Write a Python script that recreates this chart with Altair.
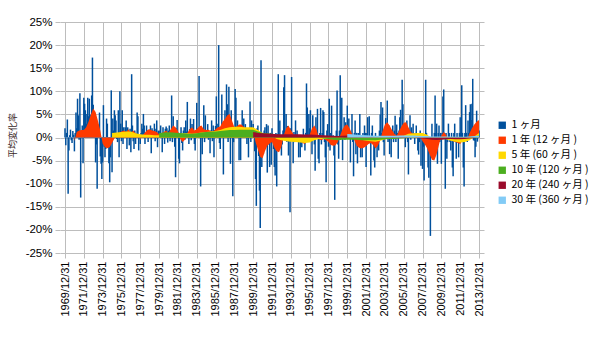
import altair as alt
import pandas as pd

# ---- series names / colours ----
series_names = ["1 ヶ月", "1 年 (12 ヶ月 )", "5 年 (60 ヶ月 )",
                "10 年 (120 ヶ月 )", "20 年 (240 ヶ月 )", "30 年 (360 ヶ月 )"]
series_colors = ["#00509C", "#FF3A00", "#FFD800", "#4CAE1F", "#9A0B2B", "#82CBF6"]

# x tick labels: every 2 years, month index 0 = 1969/12/31
tick_labels = ["1969/12/31", "1971/12/31", "1973/12/31", "1975/12/31", "1977/12/31",
               "1979/12/31", "1981/12/31", "1983/12/31", "1985/12/31", "1987/12/31",
               "1989/12/31", "1991/12/31", "1993/12/31", "1995/12/31", "1997/12/31",
               "1999/12/31", "2001/12/31", "2003/12/31", "2005/12/31", "2007/12/31",
               "2009/12/31", "2011/12/31", "2013/12/31"]

# 1-month change (%), 1969/12 then Jan..Dec of each year 1970-2013
monthly = [
    2.0,
    -1.7, 1.0, 3.9, -12.2, -2.8, 0.5, 1.7, -0.6, -1.2, 1.4, 0.6, -3.0,     # 1970
    1.0, 5.4, 2.0, 8.4, 4.8, -0.5, 9.6, -13.0, 1.5, 2.6, -5.6, 8.6,        # 1971
    7.3, 5.9, 3.0, 5.1, 8.6, 4.6, 8.4, 2.0, 4.9, 9.1, 17.3, 7.1,           # 1972
    2.0, 4.4, -5.4, -1.5, -11.1, 2.8, 2.5, 5.4, -4.1, -5.7, -9.0, -5.4,    # 1973
    7.0, -2.0, -4.3, -2.5, 4.1, 3.0, -1.0, -5.6, -9.7, -4.3, 10.2, -7.5,   # 1974
    4.1, 1.5, 5.9, 4.8, 3.7, -0.3, -1.0, 5.9, -4.3, 10.0, 3.0, -0.8,       # 1975
    5.9, -1.4, 2.2, 1.0, 2.2, 3.7, -2.5, 2.2, 0.6, -1.7, 1.9, -3.2,        # 1976
    13.7, 2.6, -0.8, -2.5, 1.5, -1.4, 0.8, 5.4, 4.6, -2.8, 0.5, -1.4,      # 1977
    1.0, 3.0, 1.9, 5.1, 2.6, -1.4, 0.8, 2.6, 0.5, -1.0, 1.7, 1.2,          # 1978
    2.6, -3.4, 2.0, 1.5, 0.6, 3.0, -0.8, 1.9, 3.7, -2.1, 1.5, 0.8,         # 1979
    1.5, 2.6, 0.5, -3.2, 2.2, 0.9, -1.4, 1.9, 2.4, 2.0, -1.1, 1.5,         # 1980
    2.6, -0.8, 1.5, 9.1, -1.0, 4.6, 1.2, -2.0, -8.6, 2.0, 3.8, 1.1,        # 1981
    -4.6, -5.6, 1.0, 2.2, -1.2, -2.8, 1.5, 2.2, -0.5, 3.7, 1.3, 7.7,       # 1982
    0.5, -1.4, 1.8, 4.1, -0.6, 2.9, 1.2, 4.0, -1.4, -2.8, 1.5, 7.5,        # 1983
    2.0, 0.5, 13.3, 1.0, -10.6, 0.8, -3.6, 1.5, 7.0, -1.0, 4.8, 1.2,       # 1984
    0.8, 2.9, -0.5, 1.4, -3.4, 1.5, 3.7, -0.8, 2.6, -4.3, 1.6, 2.5,        # 1985
    8.9, 1.5, 3.0, 20.0, -1.2, -2.5, 1.5, 9.3, 2.0, -8.0, 1.5, 5.9,        # 1986
    3.0, 11.5, 7.2, -1.0, 11.0, 1.0, -5.7, 5.9, 2.0, -12.7, -1.0, 1.5,     # 1987
    10.5, 8.6, 1.0, 3.7, 0.5, -4.9, 1.2, -4.9, 0.9, 5.9, 1.5, 4.1,         # 1988
    1.0, 2.9, 1.5, -1.4, 2.0, -4.3, 1.1, 7.8, -1.0, 3.7, 1.5, 2.9,         # 1989
    1.5, -3.0, -9.0, -14.8, 2.0, 2.6, -4.0, -11.5, -19.6, 16.7, -6.4, 1.0, # 1990
    -3.6, 1.5, 2.2, -1.0, 2.9, -7.6, 2.6, -1.5, -6.4, 1.0, -5.9, 2.0,      # 1991
    -1.0, -2.5, -6.4, -8.2, 1.0, -10.6, 0.8, 13.7, -1.0, 3.7, -0.5, -3.9,  # 1992
    -1.5, 1.5, 10.9, 13.5, 1.0, 5.1, -1.0, 2.5, -3.9, 0.8, -16.2, 2.0,     # 1993
    13.1, 1.0, -5.6, 1.2, -1.0, 3.7, 0.5, 1.5, -1.0, -4.3, 0.5, -4.3,      # 1994
    -1.0, -2.1, -0.5, 1.9, -1.0, -2.8, 1.0, 11.7, 6.5, -0.5, 5.1, 2.0,     # 1995
    5.9, -1.0, -3.6, 4.8, 1.0, -1.5, -7.2, 4.4, 1.0, 6.2, -4.6, -5.6,      # 1996
    1.0, 6.4, -1.5, 1.0, 5.9, 5.5, -1.0, -4.3, -9.7, 1.5, 2.9, -2.0,       # 1997
    8.4, -2.8, 1.0, 6.9, -1.0, 0.5, -3.9, -13.5, -1.0, 1.5, 10.2, -1.5,    # 1998
    -4.6, 1.5, 13.5, 2.0, 8.6, -4.9, 1.0, 4.4, -0.5, 3.3, 1.0, 6.9,        # 1999
    1.0, 4.1, 1.0, -5.4, 1.0, 5.1, -1.0, -8.4, 1.0, 3.7, -3.6, 1.0,        # 2000
    -5.6, 1.0, -1.0, 5.1, -4.3, -1.0, -4.3, 1.0, -1.5, 2.6, 1.0, -6.4,     # 2001
    1.0, 4.4, -1.0, 4.6, -1.0, -8.2, 1.0, 2.6, -1.0, -5.0, -6.5, 1.0,      # 2002
    -1.0, -4.3, -1.0, -2.8, 1.5, 5.0, 7.7, 1.0, 6.5, -1.0, -3.9, 1.5,      # 2003
    4.2, 1.0, 8.0, -1.0, 2.6, -3.6, 1.0, -4.3, 1.0, 2.6, -1.0, 1.5,        # 2004
    4.7, -1.0, 2.8, 1.0, -4.6, 1.5, 4.4, 6.0, 1.0, 12.5, 7.2, 1.5,         # 2005
    1.0, -2.1, 1.0, 3.7, -1.0, -8.0, 1.0, 4.8, -0.5, 2.2, 1.0, 3.0,        # 2006
    1.0, -1.4, 1.0, 2.6, 1.0, -2.8, -3.7, -1.0, 1.5, -6.1, 1.0, -6.8,      # 2007
    -2.0, -9.3, -1.0, 12.5, 1.0, -1.5, -6.5, -8.7, -2.5, -21.3, -1.0, 3.0, # 2008
    -1.5, -3.6, 1.0, 9.1, 1.0, 3.0, -5.7, 1.0, 2.6, -1.0, 1.0, -5.7,       # 2009
    1.0, 8.9, 10.4, 1.0, -11.1, 1.0, -4.6, -1.0, 3.0, 1.0, -1.0, -2.8,     # 2010
    1.0, -6.5, -8.4, 1.0, 3.0, -1.0, -4.6, 1.0, -1.0, -4.3, 1.0, 4.4,      # 2011
    1.0, 11.3, 1.0, -6.5, -10.6, 1.0, 7.0, 1.0, -1.0, 3.7, 1.0, 5.5,       # 2012
    7.2, 3.8, 7.3, 12.7, -0.6, -0.7, -4.3, -2.0, 5.8, -0.9, 3.0, 1.5,      # 2013
]

# 1-year average (%), quarterly: 1970/12, then Mar/Jun/Sep/Dec 1971-2013
avg_1y = [
    -0.8,
    1.2, 1.5, 1.6, 1.6,  2.2, 3.4, 4.9, 6.3,  5.5, 3.6, 1.5, -1.3,  -2.1, -2.3, -2.1, -1.2,
    -0.2, 0.6, 1.1, 1.3,  1.5, 1.2, 1.8, 1.0,  1.5, 0.9, 0.5, -0.4,  0.5, 1.1, 1.6, 1.8,
    1.5, 1.4, 1.2, 0.7,  0.9, 1.2, 1.5, 1.0,  1.8, 2.6, 2.2, 1.4,  -0.3, -1.0, -0.5, 1.0,
    1.8, 2.2, 1.5, 1.8,  2.4, 2.6, 1.8, 1.6,  1.7, 1.4, 1.3, 1.8,  2.2, 2.4, 3.4, 4.0,
    4.8, 5.1, 3.6, 2.2,  2.4, 2.8, 2.8, 2.3,  2.0, 1.9, 1.6, 1.2,  -1.0, -2.6, -4.2, -4.5,
    -3.0, -1.8, -1.3, -1.0,  -2.2, -3.0, -3.2, -2.0,  0.5, 2.0, 2.6, 1.6,  0.8, 0.0, -0.5, -0.8,
    -1.2, -1.4, -0.6, 0.6,  2.0, 2.6, 1.6, -0.4,  -0.6, -0.3, -0.6, -1.0,  -1.6, -1.8, -1.7, -1.0,
    0.5, 1.8, 2.6, 2.8,  2.0, 0.8, -0.6, -1.8,  -2.2, -2.4, -2.2, -1.9,  -1.4, -1.2, -1.6, -2.4,
    -1.8, -0.6, 1.4, 2.8,  3.3, 2.6, 1.6, 0.8,  0.4, 1.4, 2.4, 3.2,  3.3, 2.2, 1.2, 0.8,
    0.8, 0.6, 0.2, -0.8,  -1.5, -2.4, -3.6, -4.8,  -5.0, -3.6, -1.5, 0.4,  1.2, 0.6, -0.5, -0.6,
    -0.8, -1.0, -1.2, -1.4,  -0.6, -0.8, -0.4, 1.0,  2.0, 2.8, 3.4, 3.8,
]

# 5-year average (%), half-yearly from 1974/12
avg_5y = [
    1.0,
    1.1, 1.2,  1.3, 1.3,  0.9, 0.7,  0.6, 0.6,  0.5, 0.5,  0.5, 0.6,  0.7, 0.8,  0.9, 0.9,
    0.8, 0.9,  1.1, 1.2,  1.3, 1.4,  1.6, 2.0,  2.2, 2.3,  2.3, 2.2,  2.2, 2.2,  1.6, 1.0,
    0.6, 0.3,  -0.3, -0.6,  -0.8, -0.9,  -1.0, -1.1,  -1.2, -1.1,  -0.6, -0.3,  -0.3, -0.3,
    -0.4, -0.4,  -0.1, 0.1,  -0.1, -0.3,  -0.5, -0.7,  -0.8, -0.9,  -0.7, -0.4,  -0.1, 0.1,
    0.3, 0.4,  0.8, 0.9,  1.0, 1.0,  0.6, -0.2,  -0.3, -0.2,  -0.4, -0.7,  -0.9, -1.1,
    -1.0, -0.6,  0.2, 1.0,
]

# 10-year average (%), half-yearly from 1979/12
avg_10y = [
    1.0,
    1.1, 1.15,  1.1, 1.0,  0.9, 0.8,  0.8, 0.9,  1.1, 1.2,  1.25, 1.3,  1.4, 1.5,  1.6, 1.65,
    1.7, 1.7,  1.7, 1.7,  1.3, 1.0,  0.9, 0.8,  0.6, 0.55,  0.6, 0.55,  0.5, 0.4,  0.3, 0.3,
    0.1, 0.0,  -0.2, -0.3,  -0.5, -0.6,  -0.5, -0.5,  -0.5, -0.5,  -0.6, -0.6,  -0.6, -0.6,
    -0.5, -0.4,  -0.3, -0.3,  -0.2, -0.15,  -0.1, -0.1,  0.0, 0.0,  -0.2, -0.4,  -0.5, -0.45,
    -0.3, -0.25,  -0.25, -0.2,  -0.1, 0.15,  0.3, 0.4,
]

# 20-year average (%), half-yearly from 1989/12
avg_20y = [
    1.2,
    1.0, 0.9,  0.85, 0.8,  0.7, 0.7,  0.7, 0.7,  0.7, 0.7,  0.65, 0.65,  0.6, 0.55,  0.5, 0.45,
    0.4, 0.35,  0.4, 0.45,  0.35, 0.25,  0.2, 0.15,  0.1, 0.05,  0.05, 0.05,  0.1, 0.1,
    0.1, 0.15,  0.05, 0.0,  -0.1, -0.2,  -0.35, -0.5,  -0.55, -0.5,  -0.4, -0.35,  -0.4, -0.4,
    -0.3, -0.2,  -0.1, 0.05,
]

# 30-year average (%), half-yearly from 1999/12
avg_30y = [
    0.75,
    0.7, 0.6,  0.55, 0.5,  0.45, 0.4,  0.4, 0.4,  0.4, 0.4,  0.45, 0.45,  0.45, 0.45,
    0.4, 0.35,  0.3, 0.2,  0.2, 0.2,  0.2, 0.2,  0.15, 0.15,  0.15, 0.2,  0.3, 0.4,
]

assert len(monthly) == 529, len(monthly)


def frame(values, start, step, name):
    return pd.DataFrame({"m": [start + step * i for i in range(len(values))],
                         "v": values, "s": name})


df_1m = frame(monthly, 0, 1, series_names[0])
df_1y = frame(avg_1y, 12, 3, series_names[1])
df_5y = frame(avg_5y, 60, 6, series_names[2])
df_10y = frame(avg_10y, 120, 6, series_names[3])
df_20y = frame(avg_20y, 240, 6, series_names[4])
df_30y = frame(avg_30y, 360, 6, series_names[5])

label_font = "Liberation Sans"
cjk_font = "Noto Sans CJK JP"

x_enc = alt.X("m:Q",
              scale=alt.Scale(domain=[0, 528], nice=False, zero=False),
              axis=alt.Axis(values=list(range(0, 529, 24)),
                            labelExpr="['" + "','".join(tick_labels) + "'][round(datum.value/24)]",
                            labelAngle=270, labelFont=label_font, labelFontSize=11,
                            labelColor="#000000", labelPadding=3, tickSize=5,
                            tickColor="#BDBDBD", grid=True, gridColor="#BDBDBD",
                            domain=False, title=None, labelOverlap=False,
                            labelFlush=False))

y_enc = alt.Y("v:Q",
              scale=alt.Scale(domain=[-25, 25], nice=False),
              axis=alt.Axis(values=list(range(-25, 26, 5)),
                            labelExpr="datum.value + '%'",
                            labelFont=label_font, labelFontSize=11.5,
                            labelColor="#000000", labelPadding=3, tickSize=5,
                            tickColor="#BDBDBD", grid=True, gridColor="#BDBDBD",
                            domain=False, title="平均変化率", titleFont=cjk_font,
                            titleFontSize=9, titleFontWeight="normal",
                            titleColor="#3A2A2A", titleX=-48, titleY=113,
                            titleAlign="center", titleBaseline="middle",
                            titleAngle=270))

color_enc = alt.Color("s:N",
                      scale=alt.Scale(domain=series_names, range=series_colors),
                      legend=alt.Legend(orient="none", legendX=437, legendY=98,
                                        title=None, symbolType="square",
                                        symbolSize=54, symbolStrokeWidth=0,
                                        symbolOpacity=1, labelFont=cjk_font,
                                        labelFontSize=10.5, labelColor="#000000",
                                        labelOffset=4, rowPadding=4, padding=0))

bars = alt.Chart(df_1m).mark_bar(size=1.5, clip=True).encode(x=x_enc, y=y_enc, color=color_enc)

def area(df):
    return alt.Chart(df).mark_area(clip=True, opacity=1, interpolate="linear").encode(
        x=x_enc, y=y_enc, color=color_enc)

chart = alt.layer(bars, area(df_1y), area(df_5y), area(df_10y), area(df_20y), area(df_30y)).properties(
    width=424, height=231,
    padding={"left": 60, "top": 22, "right": 116, "bottom": 84},
    autosize=alt.AutoSizeParams(type="none"),
    background="#FFFFFF",
).configure_view(stroke=None)

chart.save("out.html", embed_options={"renderer": "svg", "actions": False})
